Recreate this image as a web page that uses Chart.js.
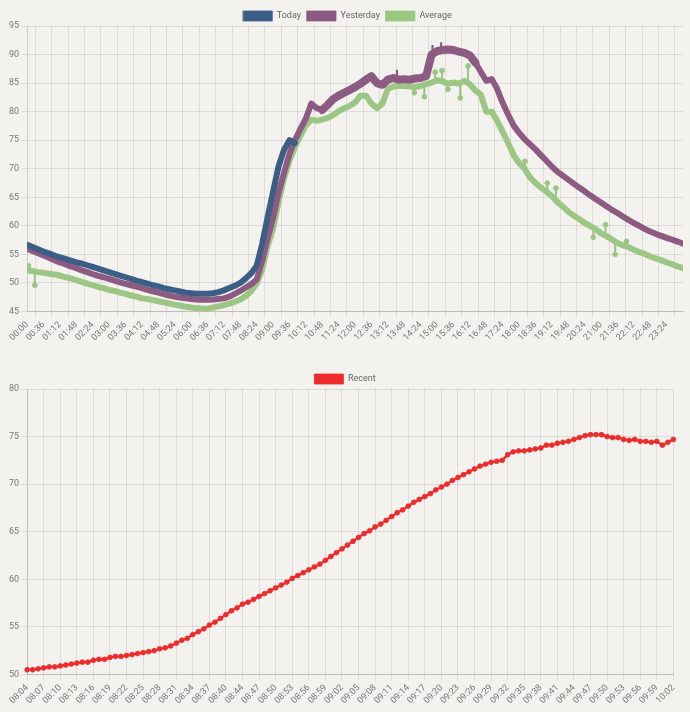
<!DOCTYPE html>
<html><head><meta charset="utf-8">
<script src="https://cdn.jsdelivr.net/npm/chart.js@4"></script>
<style>
html,body{margin:0;padding:0;background:#f4f2ee;width:690px;height:712px;overflow:hidden;}
.box{position:absolute;left:7px;height:345px;}
#b1{top:0;width:681px}
#b2{top:363px;width:676px}
</style></head><body>
<div class="box" id="b1"><canvas id="c1"></canvas></div>
<div class="box" id="b2"><canvas id="c2"></canvas></div>
<script>
// ---------- top chart data (every 12 minutes, last sample 23:59) ----------
const dayTimes = [
'00:00','00:12','00:24','00:36','00:48','01:00','01:12','01:24','01:36','01:48',
'02:00','02:12','02:24','02:36','02:48','03:00','03:12','03:24','03:36','03:48',
'04:00','04:12','04:24','04:36','04:48','05:00','05:12','05:24','05:36','05:48',
'06:00','06:12','06:24','06:36','06:48','07:00','07:12','07:24','07:36','07:48',
'08:00','08:12','08:24','08:36','08:48','09:00','09:12','09:24','09:36','09:48',
'10:00','10:12','10:24','10:36','10:48','11:00','11:12','11:24','11:36','11:48',
'12:00','12:12','12:24','12:36','12:48','13:00','13:12','13:24','13:36','13:48',
'14:00','14:12','14:24','14:36','14:48','15:00','15:12','15:24','15:36','15:48',
'16:00','16:12','16:24','16:36','16:48','17:00','17:12','17:24','17:36','17:48',
'18:00','18:12','18:24','18:36','18:48','19:00','19:12','19:24','19:36','19:48',
'20:00','20:12','20:24','20:36','20:48','21:00','21:12','21:24','21:36','21:48',
'22:00','22:12','22:24','22:36','22:48','23:00','23:12','23:24','23:36','23:48','23:59'];

const todayValues = [
56.7,56.3,55.9,55.5,55.2,54.8,54.5,54.2,53.9,53.6,
53.4,53.1,52.8,52.5,52.2,51.9,51.6,51.3,51.0,50.7,
50.4,50.15,49.9,49.6,49.4,49.1,48.9,48.7,48.5,48.3,
48.2,48.1,48.1,48.1,48.2,48.4,48.7,49.1,49.5,50.0,
50.8,51.7,53.0,56.8,61.5,66.0,70.4,73.3,75.0,74.5];

const yesterdayValues = [
56.0,55.6,55.2,54.8,54.4,54.0,53.6,53.3,52.9,52.6,
52.2,51.9,51.55,51.25,51.0,50.7,50.4,50.1,49.85,49.6,
49.35,49.1,48.8,48.55,48.3,48.05,47.8,47.6,47.45,47.3,
47.2,47.1,47.05,47.05,47.1,47.2,47.3,47.6,48.1,48.6,
49.2,49.8,50.6,53.9,57.8,61.4,65.8,69.3,72.6,75.0,
77.0,78.8,81.4,80.6,80.3,81.2,82.2,82.8,83.3,83.8,
84.3,84.9,85.6,86.2,85.0,84.7,85.6,85.9,85.6,85.7,
85.6,85.8,85.9,86.2,90.0,90.6,90.8,90.9,90.8,90.5,
90.3,89.85,88.6,87.0,85.4,85.7,84.0,81.55,79.5,77.6,
76.3,75.2,74.3,73.4,72.4,71.4,70.4,69.5,68.8,68.1,
67.4,66.7,66.05,65.35,64.7,64.1,63.45,62.8,62.25,61.65,
61.05,60.5,60.0,59.45,59.0,58.6,58.25,57.9,57.6,57.25,56.9];

const averageValues = [
52.2,52.1,51.9,51.8,51.6,51.5,51.3,51.0,50.8,50.5,
50.2,49.9,49.6,49.3,49.1,48.8,48.6,48.3,48.1,47.8,
47.6,47.3,47.2,47.0,46.8,46.6,46.4,46.2,46.0,45.85,
45.7,45.6,45.55,45.5,45.7,45.9,46.1,46.4,46.7,47.1,
47.7,48.6,49.9,52.3,56.5,59.5,64.2,68.3,71.4,73.8,
75.8,77.6,78.6,78.4,78.6,78.9,79.4,80.1,80.6,81.0,
81.6,82.8,82.8,81.4,80.6,81.4,84.0,84.4,84.5,84.5,
84.4,84.3,84.5,84.8,85.1,85.5,85.3,84.9,85.1,84.9,
85.4,84.8,83.7,83.0,80.0,80.0,78.4,76.5,74.5,72.4,
71.0,70.0,68.5,67.5,66.7,66.0,65.2,64.2,63.4,62.5,
61.8,61.2,60.5,60.0,59.4,58.7,58.2,57.6,57.0,56.6,
56.3,55.8,55.4,55.1,54.6,54.3,54.0,53.6,53.3,52.9,52.6];

// short spikes (time, line level, tip)
const averageSpikeTimes = ['00:03','00:17','14:10','14:32','14:56','15:11','15:24','15:51','16:08','18:13','19:02','19:21','20:43','21:10','21:31','21:56'];
const averageSpikeBases = [52.2,52.0,84.3,84.7,85.4,85.3,84.9,85.0,85.0,70.0,65.9,64.45,59.65,58.3,57.3,56.4];
const averageSpikeTips  = [53.0,49.6,83.3,82.6,86.9,87.2,83.9,82.4,88.0,71.3,67.5,66.6,58.0,60.2,55.0,57.3];
const yesterdaySpikeTimes = ['13:32','14:50','15:09'];
const yesterdaySpikeBases = [85.7,90.1,90.75];
const yesterdaySpikeTips  = [87.3,91.6,92.1];

// ---------- bottom chart data (one sample per minute) ----------
const recentTimes = [
'08:04','08:05','08:06','08:07','08:08','08:09','08:10','08:11','08:12','08:13',
'08:14','08:15','08:16','08:17','08:18','08:19','08:20','08:21','08:22','08:23',
'08:24','08:25','08:26','08:27','08:28','08:29','08:30','08:31','08:32','08:33',
'08:34','08:35','08:36','08:37','08:38','08:39','08:40','08:41','08:42','08:44',
'08:45','08:46','08:47','08:48','08:49','08:50','08:51','08:52','08:53','08:54',
'08:55','08:56','08:57','08:58','08:59','09:00','09:01','09:02','09:03','09:04',
'09:05','09:06','09:07','09:08','09:09','09:10','09:11','09:12','09:13','09:14',
'09:15','09:16','09:17','09:18','09:19','09:20','09:21','09:22','09:23','09:24',
'09:25','09:26','09:27','09:28','09:29','09:30','09:31','09:32','09:33','09:34',
'09:35','09:36','09:37','09:38','09:39','09:40','09:41','09:42','09:43','09:44',
'09:45','09:46','09:47','09:48','09:49','09:50','09:51','09:52','09:53','09:54',
'09:55','09:56','09:57','09:58','09:59','10:00','10:01','10:02'];

const recentValues = [
50.5,50.5,50.6,50.7,50.8,50.8,50.9,51.0,51.1,51.2,
51.3,51.3,51.5,51.6,51.6,51.8,51.9,51.9,52.0,52.1,
52.2,52.3,52.4,52.5,52.7,52.8,53.0,53.3,53.6,53.8,
54.2,54.5,54.8,55.2,55.5,55.9,56.3,56.7,57.0,57.4,
57.6,57.9,58.2,58.5,58.8,59.1,59.4,59.7,60.1,60.4,
60.7,61.0,61.3,61.6,62.0,62.4,62.8,63.2,63.6,64.0,
64.4,64.8,65.1,65.5,65.8,66.2,66.6,67.0,67.3,67.7,
68.1,68.4,68.7,69.0,69.4,69.7,70.0,70.4,70.7,71.0,
71.3,71.6,71.9,72.1,72.3,72.4,72.5,73.1,73.4,73.5,
73.5,73.6,73.7,73.8,74.1,74.1,74.3,74.4,74.5,74.7,
74.9,75.1,75.2,75.2,75.2,75.0,74.9,74.9,74.7,74.6,
74.7,74.5,74.5,74.4,74.5,74.1,74.4,74.7];

const dayTickStep = 36;   // minutes between x labels of the top chart
const recentTickEvery = 3; // every 3rd label in the bottom chart

// ---------- helpers ----------
const toMin = t => { const [h, m] = t.split(':').map(Number); return h * 60 + m; };
const fmt = m => String(Math.floor(m / 60)).padStart(2, '0') + ':' + String(m % 60).padStart(2, '0');
const pts = (times, vals) => vals.map((v, i) => ({x: toMin(times[i]), y: v}));
const bars = (times, b, t) => times.map((tm, i) => ({x: toMin(tm), y: [b[i], t[i]]}));

const C_TODAY = '#3c5e86', C_YEST = '#8d5a82', C_AVG = '#9cc683', C_RED = '#ee2b2b';
const GRID = 'rgba(0,0,0,0.09)';

Chart.defaults.font.family = 'Roboto';
Chart.defaults.font.size = 9;
Chart.defaults.color = '#777';
Chart.defaults.animation = false;

// nudge the legend row down a little, keeping the plot area where it is
const legendNudge = {
  id: 'legendNudge',
  afterLayout(chart) { const l = chart.legend; if (l) { l.top += 5; l.bottom += 5; } }
};

const legendOpts = {
  display: true,
  labels: {
    boxWidth: 29, boxHeight: 10, padding: 6, color: '#666',
    filter: (item, data) => !data.datasets[item.datasetIndex].noLegend,
    generateLabels: chart => Chart.defaults.plugins.legend.labels.generateLabels(chart)
      .map(it => Object.assign(it, {lineWidth: 0.8}))
  }
};

const yestMinutes = dayTimes.map(toMin);
const axisBorder = {color: 'rgba(0,0,0,0.14)'};

new Chart(document.getElementById('c1'), {
  type: 'line',
  plugins: [legendNudge],
  data: {
    datasets: [
      {label: 'Today', data: pts(dayTimes, todayValues), borderColor: C_TODAY, backgroundColor: C_TODAY,
       borderWidth: 6, pointRadius: 0, borderCapStyle: 'round', borderJoinStyle: 'round', tension: 0},
      {label: 'Yesterday', data: pts(dayTimes, yesterdayValues), borderColor: C_YEST, backgroundColor: C_YEST,
       borderWidth: 6, pointRadius: 0, borderCapStyle: 'round', borderJoinStyle: 'round', tension: 0,
       segment: {borderWidth: ctx => { const m = yestMinutes[ctx.p0DataIndex]; return (m >= 640 && m < 975) ? 8 : 6; }}},
      {label: 'Average', data: pts(dayTimes, averageValues), borderColor: C_AVG, backgroundColor: C_AVG,
       borderWidth: 6, pointRadius: 0, borderCapStyle: 'round', borderJoinStyle: 'round', tension: 0},
      {type: 'bar', label: 'ys', noLegend: true, data: bars(yesterdaySpikeTimes, yesterdaySpikeBases, yesterdaySpikeTips),
       backgroundColor: C_YEST, barThickness: 1.5, grouped: false, order: 5},
      {type: 'bar', label: 'as', noLegend: true, data: bars(averageSpikeTimes, averageSpikeBases, averageSpikeTips),
       backgroundColor: C_AVG, barThickness: 1.5, grouped: false, order: 6},
      {type: 'scatter', label: 'ad', noLegend: true, data: pts(averageSpikeTimes, averageSpikeTips),
       backgroundColor: C_AVG, borderColor: C_AVG, pointRadius: 2.4, showLine: false, order: 6}
    ]
  },
  options: {
    responsive: true, maintainAspectRatio: false,
    plugins: {legend: legendOpts, tooltip: {enabled: false}},
    scales: {
      x: {type: 'linear', min: 0, max: 1440, offset: false,
          grid: {color: GRID, tickLength: 6}, border: axisBorder,
          ticks: {stepSize: dayTickStep, autoSkip: false, minRotation: 45, maxRotation: 45, padding: 2,
                  callback: v => (v % dayTickStep === 0 && v < 1440) ? fmt(v) : null}},
      y: {min: 45, max: 95, grid: {color: GRID, tickLength: 6}, border: axisBorder,
          ticks: {stepSize: 5, padding: 2}}
    }
  }
});

new Chart(document.getElementById('c2'), {
  type: 'line',
  plugins: [legendNudge],
  data: {
    labels: recentTimes,
    datasets: [
      {label: 'Recent', data: recentValues, borderColor: C_RED, backgroundColor: C_RED,
       borderWidth: 2.2, pointRadius: 2.4, pointBorderWidth: 0.8, pointBackgroundColor: C_RED, tension: 0}
    ]
  },
  options: {
    responsive: true, maintainAspectRatio: false,
    plugins: {legend: legendOpts, tooltip: {enabled: false}},
    scales: {
      x: {grid: {color: GRID, tickLength: 6}, border: axisBorder,
          ticks: {autoSkip: false, minRotation: 45, maxRotation: 45, padding: 2,
                  callback: function(v, i) { return i % recentTickEvery === 0 ? this.getLabelForValue(v) : null; }}},
      y: {min: 50, max: 80, grid: {color: GRID, tickLength: 6}, border: axisBorder,
          ticks: {stepSize: 5, padding: 2}}
    }
  }
});
</script>
</body></html>
